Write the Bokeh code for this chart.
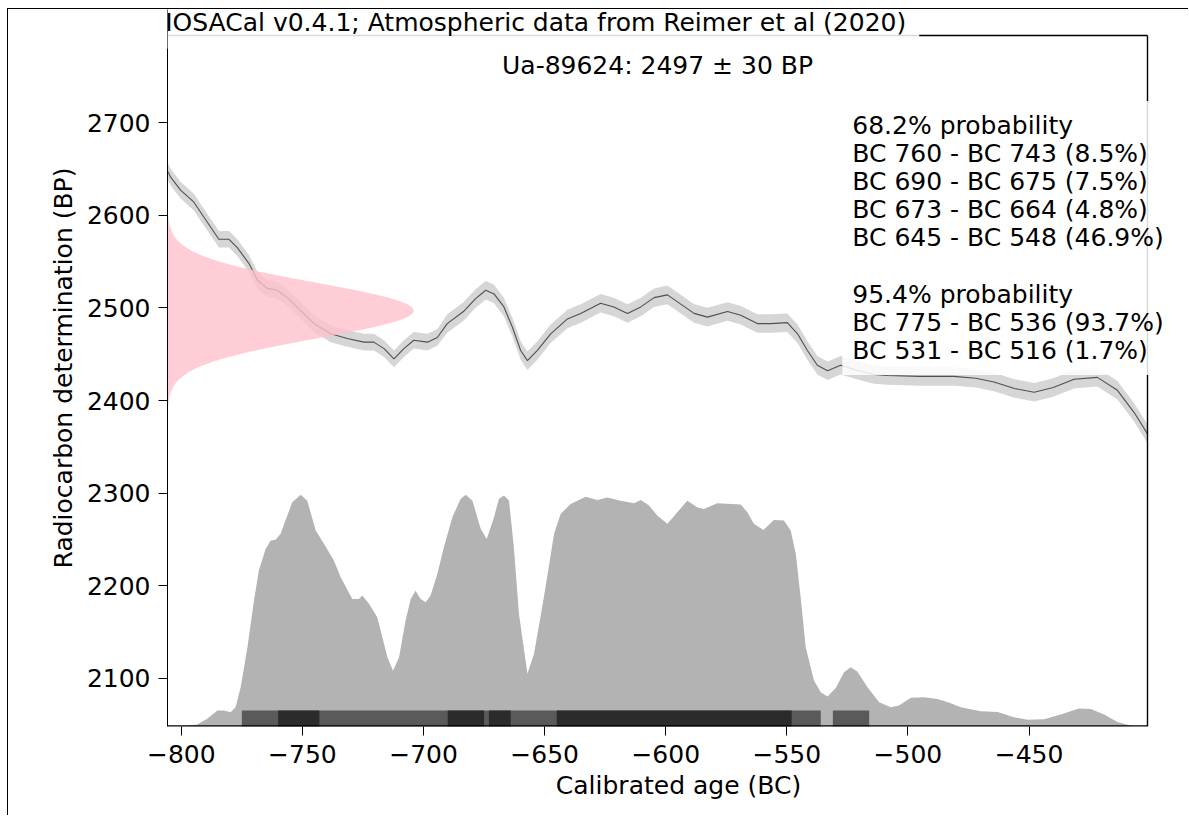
import numpy as np
from bokeh.plotting import figure
from bokeh.models import Label, FixedTicker, Range1d
from bokeh.embed import file_html
from bokeh.resources import INLINE

# ---------------- data ----------------
# Calibration curve (IntCal20 atmospheric), calendar year (negative = BC), BP and 1-sigma
CURVE_AGE = [-805.5, -804.4, -800.3, -794.8, -790.7, -784.5, -780.3, -776.9, -772.1, -768.6,
             -764.5, -760.4, -756.2, -750.7, -745.2, -738.3, -731.5, -724.6, -720.5, -716.3,
             -712.2, -708.1, -704.0, -698.4, -694.3, -690.2, -683.5, -678.5, -674.3, -670.9,
             -666.8, -663.3, -659.9, -657.1, -653.0, -647.5, -640.6, -635.1, -626.9, -621.4,
             -615.8, -610.3, -604.8, -599.3, -593.8, -588.3, -582.8, -574.5, -569.0, -562.2,
             -556.7, -549.8, -545.6, -541.5, -537.4, -533.2, -527.8, -520.0, -514.0, -508.5,
             -495.0, -481.0, -472.0, -464.5, -456.0, -447.9, -440.0, -431.4, -421.8, -413.5,
             -406.6, -401.1]
CURVE_BP = [2647, 2641, 2627, 2614, 2598, 2574, 2574, 2565, 2548, 2530,
            2521, 2519, 2511, 2497, 2483, 2472, 2467, 2463, 2463, 2456,
            2445, 2456, 2465, 2463, 2468, 2483, 2496, 2510, 2519, 2515,
            2501, 2479, 2454, 2443, 2454, 2472, 2488, 2494, 2505, 2501,
            2494, 2501, 2511, 2514, 2504, 2494, 2490, 2496, 2492, 2483,
            2483, 2484, 2472, 2454, 2438, 2432, 2438, 2432, 2428, 2427,
            2426, 2426, 2424, 2420, 2413, 2409, 2414, 2423, 2425, 2411,
            2387, 2364]
CURVE_SIGMA = [9, 9, 9, 9, 9, 9, 9, 9, 9, 9,
               9, 9, 9, 9, 9, 9, 9, 9, 9, 9,
               9, 9, 9, 9, 9, 10, 10, 10, 10, 10,
               10, 10, 10, 10, 10, 10, 10, 10, 10, 10,
               10, 10, 10, 10, 10, 10, 10, 10, 10, 10,
               10, 10, 10, 10, 10, 10, 10, 10, 10, 10,
               10, 10, 10, 10, 10, 10, 10, 10, 10, 10,
               10, 10]

# Calibrated probability (relative to max)
CAL_AGE = [-800.3, -793.4, -789.3, -785.1, -782.4, -779.6, -777.6, -775.5, -772.7, -770.0,
           -768.0, -765.2, -763.1, -761.1, -759.0, -757.0, -754.2, -750.7, -748.0, -744.5,
           -741.1, -737.0, -734.2, -729.4, -726.7, -725.3, -722.5, -719.1, -717.0, -714.9,
           -712.6, -710.1, -707.4, -705.3, -703.3, -701.2, -699.1, -697.1, -694.3, -691.6,
           -688.1, -684.7, -682.6, -679.8, -676.4, -673.9, -670.9, -668.9, -666.8, -664.7,
           -662.7, -660.6, -657.1, -654.4, -650.3, -646.1, -643.4, -639.2, -633.1, -628.2,
           -624.1, -618.6, -613.1, -610.3, -606.9, -603.4, -599.3, -595.2, -591.1, -586.9,
           -584.2, -578.7, -569.0, -566.3, -563.6, -559.7, -555.3, -551.2, -548.4, -546.3,
           -544.3, -542.2, -538.8, -536.0, -533.2, -529.8, -526.4, -523.6, -520.9, -516.7,
           -511.9, -507.1, -503.7, -498.8, -493.4, -487.8, -482.3, -478.2, -469.9, -463.0,
           -456.2, -450.7, -443.8, -436.9, -429.4, -424.5, -419.0, -413.5, -406.7, -401.1]
CAL_PROB = [0.000, 0.009, 0.033, 0.069, 0.069, 0.062, 0.083, 0.169, 0.342, 0.543,
            0.672, 0.766, 0.802, 0.805, 0.831, 0.888, 0.967, 1.000, 0.974, 0.845,
            0.788, 0.716, 0.644, 0.550, 0.550, 0.565, 0.529, 0.471, 0.385, 0.299,
            0.241, 0.299, 0.457, 0.550, 0.586, 0.550, 0.536, 0.565, 0.658, 0.773,
            0.902, 0.981, 1.000, 0.974, 0.853, 0.809, 0.902, 0.981, 0.996, 0.974,
            0.773, 0.486, 0.227, 0.313, 0.557, 0.831, 0.917, 0.960, 0.991, 0.977,
            0.988, 0.974, 0.963, 0.977, 0.953, 0.909, 0.874, 0.924, 0.974, 0.945,
            0.938, 0.963, 0.957, 0.924, 0.874, 0.848, 0.891, 0.888, 0.845, 0.744,
            0.557, 0.342, 0.198, 0.148, 0.129, 0.166, 0.234, 0.256, 0.237, 0.169,
            0.105, 0.083, 0.091, 0.124, 0.126, 0.119, 0.100, 0.083, 0.066, 0.063,
            0.040, 0.029, 0.031, 0.052, 0.078, 0.075, 0.052, 0.019, 0.000, 0.000]

# Highest density ranges
HPD68_FROM = [-760, -690, -673, -645]
HPD68_TO = [-743, -675, -664, -548]
HPD95_FROM = [-775, -531]
HPD95_TO = [-536, -516]

# Radiocarbon determination
SAMPLE_BP = 2497
SAMPLE_SIGMA = 30

X_TICKS = [-800, -750, -700, -650, -600, -550, -500, -450]
Y_TICKS = [2100, 2200, 2300, 2400, 2500, 2600, 2700]

TITLE = "IOSACal v0.4.1; Atmospheric data from Reimer et al (2020)"
SUBTITLE = "Ua-89624: 2497 \u00b1 30 BP"
PROB_LINES = ["68.2% probability",
              "BC 760 - BC 743 (8.5%)",
              "BC 690 - BC 675 (7.5%)",
              "BC 673 - BC 664 (4.8%)",
              "BC 645 - BC 548 (46.9%)",
              "",
              "95.4% probability",
              "BC 775 - BC 536 (93.7%)",
              "BC 531 - BC 516 (1.7%)"]

# ---------------- layout ----------------
# axes box (matplotlib-like spines) and the drawing frame, which reaches the
# canvas top and right so that the texts overlapping the spines are not clipped
AX_X0, AX_X1 = -805.7, -401.1
AX_Y0, AX_Y1 = 2048.2, 2793.9
FR_X1 = -383.76
FR_Y1 = 2821.96
FONT = "DejaVu Sans"
FS = "25px"

p = figure(width=1181, height=807,
           x_range=Range1d(AX_X0, FR_X1), y_range=Range1d(AX_Y0, FR_Y1),
           output_backend="svg", toolbar_location=None,
           min_border_left=159, min_border_right=0,
           min_border_top=0, min_border_bottom=90)
p.styles = {"border-left": "1px solid black", "border-top": "1px solid black",
            "margin-left": "7px", "margin-top": "8px"}

# calibration curve band + line
c_age = np.array(CURVE_AGE)
c_bp = np.array(CURVE_BP, dtype=float)
c_sig = np.array(CURVE_SIGMA, dtype=float)
p.varea(x=c_age, y1=c_bp - c_sig, y2=c_bp + c_sig, fill_color="#d6d6d6", fill_alpha=1.0)
p.line(c_age, c_bp, line_color="#505050", line_width=1.1)

# radiocarbon determination (normal distribution on the y axis)
ys = np.linspace(SAMPLE_BP - 4.5 * SAMPLE_SIGMA, SAMPLE_BP + 4.5 * SAMPLE_SIGMA, 300)
dens = np.exp(-0.5 * ((ys - SAMPLE_BP) / SAMPLE_SIGMA) ** 2)
PEAK_WIDTH = 101.6
p.harea(y=ys, x1=np.full_like(ys, AX_X0), x2=AX_X0 + dens * PEAK_WIDTH,
        fill_color="#FFC0CB", fill_alpha=0.8)

# calibrated distribution
CAL_BASE = AX_Y0
CAL_HEIGHT = 250.2
cal_prob = np.array(CAL_PROB)
p.varea(x=CAL_AGE, y1=np.full_like(cal_prob, CAL_BASE), y2=CAL_BASE + cal_prob * CAL_HEIGHT,
        fill_color="#b3b3b3", fill_alpha=1.0)

# HPD bars
BAR_TOP = 2065.5
p.quad(left=HPD95_FROM, right=HPD95_TO, bottom=AX_Y0, top=BAR_TOP,
       fill_color="#5a5a5a", line_color=None)
p.quad(left=HPD68_FROM, right=HPD68_TO, bottom=AX_Y0, top=BAR_TOP,
       fill_color="#2b2b2b", line_color=None)

# spines: top, right, bottom (left spine is the y axis line)
p.segment(x0=[AX_X0, AX_X1], y0=[AX_Y1, AX_Y0], x1=[AX_X1, AX_X1], y1=[AX_Y1, AX_Y1],
          line_color="black", line_width=1.4)
p.segment(x0=[AX_X0], y0=[AX_Y0], x1=[AX_X1], y1=[AX_Y0],
          line_color="black", line_width=2.4)

# texts
p.add_layout(Label(x=-808.3, y=2825.9, text=TITLE, text_font=FONT, text_font_size=FS,
                   text_align="left", text_baseline="top", text_line_height=1.0,
                   text_color="black",
                   background_fill_color="white", background_fill_alpha=0.85,
                   padding=dict(left=4, right=13, top=2, bottom=12), level="overlay"))
p.add_layout(Label(x=(AX_X0 + AX_X1) / 2, y=2777.6, text=SUBTITLE, text_font=FONT,
                   text_font_size=FS, text_align="center", text_baseline="top",
                   text_line_height=1.0, text_color="black"))
p.add_layout(Label(x=-527.1, y=2723.3, text="\n".join(PROB_LINES), text_font=FONT,
                   text_font_size=FS, text_align="left", text_baseline="top",
                   text_line_height=0.97, text_color="black",
                   background_fill_color="white", background_fill_alpha=0.85,
                   padding=10, level="overlay"))

# axes
p.xaxis.ticker = FixedTicker(ticks=X_TICKS)
p.yaxis.ticker = FixedTicker(ticks=Y_TICKS)
p.xaxis.axis_label = "Calibrated age (BC)"
p.yaxis.axis_label = "Radiocarbon determination (BP)"
for ax in p.axis:
    ax.major_label_text_font = FONT
    ax.major_label_text_font_size = FS
    ax.major_label_text_color = "black"
    ax.axis_label_text_font = FONT
    ax.axis_label_text_font_size = FS
    ax.axis_label_text_font_style = "normal"
    ax.axis_label_text_color = "black"
    ax.major_tick_out = 9
    ax.major_tick_in = 0
    ax.minor_tick_line_color = None
    ax.major_tick_line_color = "black"
p.yaxis.axis_line_color = "black"
p.xaxis.axis_line_color = None
p.xaxis.major_label_standoff = 9
p.yaxis.major_label_standoff = 8
p.xaxis.axis_label_standoff = 5
p.yaxis.axis_label_standoff = 6
p.grid.visible = False
p.outline_line_color = None
p.background_fill_color = "white"
p.border_fill_color = "white"

open("out.html", "w").write(file_html(p, INLINE))
